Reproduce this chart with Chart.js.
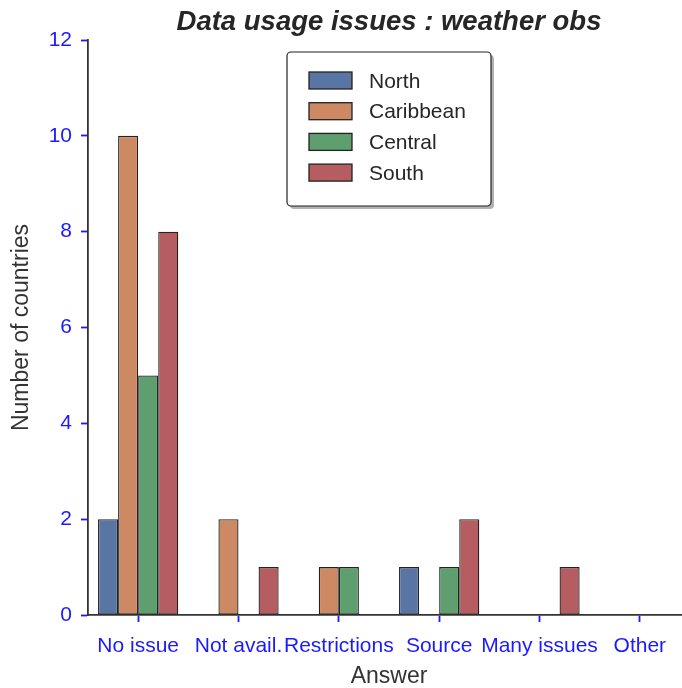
<!DOCTYPE html>
<html>
<head>
<meta charset="utf-8">
<script src="https://cdn.jsdelivr.net/npm/chart.js@4/dist/chart.umd.min.js"></script>
<style>
html,body{margin:0;padding:0;overflow:hidden;background:#fff;width:682px;height:688px;}
canvas{display:block;}
</style>
</head>
<body>
<canvas id="c" width="690" height="688" style="width:690px;height:688px"></canvas>
<script>
const categories = ["No issue", "Not avail.", "Restrictions", "Source", "Many issues", "Other"];
const seriesNames = ["North", "Caribbean", "Central", "South"];
const north = [2, 0, 0, 1, 0, 0];
const caribbean = [10, 2, 1, 0, 0, 0];
const central = [5, 0, 1, 1, 0, 0];
const south = [8, 1, 0, 2, 1, 0];
const yTicks = [0, 2, 4, 6, 8, 10, 12];
const colors = ["#5975A4", "#CC8963", "#5F9E6E", "#B55D60"];
const titleText = "Data usage issues : weather obs";

const FONT = "'Liberation Sans', Arial, sans-serif";

const legendPlugin = {
  id: 'boxLegend',
  afterDraw(chart) {
    const ctx = chart.ctx;
    const x = 287, y = 52, w = 204, h = 154;
    ctx.save();
    ctx.fillStyle = 'rgba(0,0,0,0.3)';
    ctx.beginPath();
    ctx.roundRect(x + 3, y + 3, w, h, 4);
    ctx.fill();
    ctx.fillStyle = '#fff';
    ctx.strokeStyle = '#222';
    ctx.lineWidth = 1.2;
    ctx.beginPath();
    ctx.roundRect(x, y, w, h, 4);
    ctx.fill();
    ctx.stroke();
    ctx.font = "21px " + FONT;
    ctx.textBaseline = 'middle';
    chart.data.datasets.forEach((ds, i) => {
      const ry = 80.5 + i * 30.7;
      ctx.fillStyle = ds.backgroundColor;
      ctx.fillRect(309, ry - 8.5, 43, 17);
      ctx.strokeStyle = '#222';
      ctx.lineWidth = 1.3;
      ctx.strokeRect(309, ry - 8.5, 43, 17);
      ctx.fillStyle = '#262626';
      ctx.fillText(ds.label, 369, ry + 1.5);
    });
    ctx.restore();
  }
};

const titlePlugin = {
  id: 'topTitle',
  afterDraw(chart) {
    const ctx = chart.ctx;
    const a = chart.chartArea;
    ctx.save();
    ctx.font = "italic bold 27.5px " + FONT;
    ctx.fillStyle = '#262626';
    ctx.textAlign = 'center';
    ctx.textBaseline = 'middle';
    ctx.fillText(titleText, (a.left + a.right) / 2, 22);
    ctx.restore();
  }
};

const series = [north, caribbean, central, south];
new Chart(document.getElementById('c'), {
  type: 'bar',
  data: {
    labels: categories,
    datasets: seriesNames.map((n, i) => ({
      label: n,
      data: series[i],
      backgroundColor: colors[i],
      borderColor: '#222',
      borderWidth: 1.3,
      borderSkipped: false,
      categoryPercentage: 0.8,
      barPercentage: 1.0
    }))
  },
  options: {
    responsive: false,
    animation: false,
    layout: { padding: { top: 40, left: 0, right: 0, bottom: 0 } },
    plugins: { legend: { display: false }, title: { display: false }, tooltip: { enabled: false } },
    scales: {
      x: {
        grid: { display: true, offset: false, drawOnChartArea: false, tickLength: 7, tickColor: '#1a1aff', tickWidth: 1.8 },
        border: { color: '#333', width: 1.8 },
        ticks: { color: '#1a1aff', font: { family: FONT, size: 21 }, padding: 12, maxRotation: 0, autoSkip: false },
        title: { display: true, text: 'Answer', color: '#333', font: { family: FONT, size: 23, lineHeight: 1.0 }, padding: { top: 0, bottom: 0 } },
        afterFit(s) { s.height = 73; }
      },
      y: {
        min: 0, max: 12,
        afterBuildTicks(s) { s.ticks = yTicks.map(v => ({ value: v })); },
        grid: { display: true, drawOnChartArea: false, tickLength: 7, tickColor: '#1a1aff', tickWidth: 1.8 },
        border: { color: '#333', width: 1.8 },
        ticks: { color: '#1a1aff', font: { family: FONT, size: 21 }, padding: 9 },
        title: { display: true, text: 'Number of countries', color: '#333', font: { family: FONT, size: 23, lineHeight: 1.2 }, padding: { top: 8, bottom: 0 } },
        afterFit(s) { s.width = 88; }
      }
    }
  },
  plugins: [legendPlugin, titlePlugin]
});
</script>
</body>
</html>
